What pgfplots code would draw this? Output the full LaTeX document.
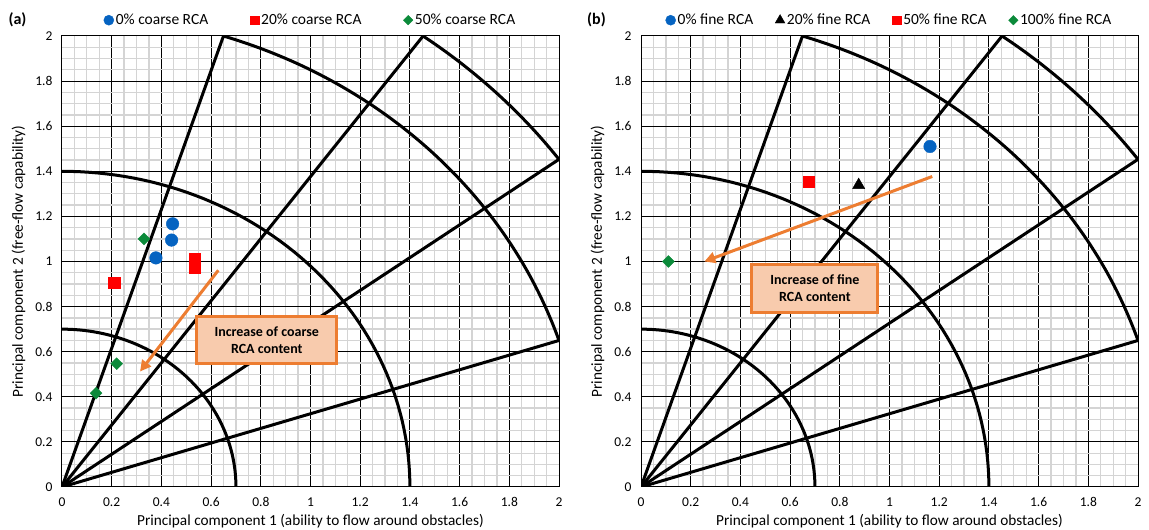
\documentclass[border=0pt]{standalone}
\usepackage{fontspec}
\setmainfont{Carlito}
\usepackage{pgfplots}
\pgfplotsset{compat=1.18}
\usetikzlibrary{arrows.meta}

\definecolor{mblue}{HTML}{0563C1}
\definecolor{mred}{HTML}{FF0000}
\definecolor{mgreen}{HTML}{0B8A3A}
\definecolor{morange}{HTML}{ED7D31}
\definecolor{mpeach}{HTML}{F8CBAD}
\definecolor{mgrid}{HTML}{D4D4D4}

\tikzset{
  note/.style={draw=morange, fill=mpeach, line width=3pt, align=center,
    font=\bfseries\fontsize{14}{17}\selectfont},
}

\pgfplotsset{
  pcaxis/.style={
    scale only axis, width=497pt, height=451pt,
    xmin=0, xmax=2, ymin=0, ymax=2,
    clip mode=individual,
    xtick={0,0.2,0.4,0.6,0.8,1,1.2,1.4,1.6,1.8,2},
    ytick={0,0.2,0.4,0.6,0.8,1,1.2,1.4,1.6,1.8,2},
    minor tick num=3,
    grid=both,
    major grid style={black, line width=1pt},
    minor grid style={mgrid, line width=1.3pt},
    axis line style={black, line width=1pt},
    major tick length=0pt, minor tick length=0pt,
    ticklabel style={font=\fontsize{13.5}{16}\selectfont},
    xticklabel style={yshift=-7pt},
    yticklabel style={xshift=-6pt},
    /pgf/number format/assume math mode=true,
    xlabel={Principal component 1 (ability to flow around obstacles)},
    ylabel={Principal component 2 (free-flow capability)},
    every axis x label/.style={at={(axis description cs:0.5,-0.0754)}, anchor=center,
      font=\fontsize{15.3}{18}\selectfont},
    every axis y label/.style={at={(axis description cs:-0.0875,0.5)}, anchor=center, rotate=90,
      font=\fontsize{15.3}{18}\selectfont},
    legend style={at={(axis description cs:0.5,1.035)}, anchor=center,
      draw=none, fill=none, inner sep=0pt,
      font=\fontsize{15.5}{18}\selectfont},
    legend columns=-1,
    legend image code/.code={\draw[#1, every mark/.append style={scale=0.8}] plot coordinates {(0pt,0pt)};},
  },
  guide/.style={black, line width=3pt, forget plot},
  trend/.style={morange, line width=3pt, forget plot,
    -{Triangle[length=11pt,width=11pt]}},
  pblue/.style={only marks, mark=*, mark size=6.3pt, color=mblue,
    mark options={draw=mblue, fill=mblue}},
  pred/.style={only marks, mark=square*, mark size=5.6pt, color=mred,
    mark options={draw=mred, fill=mred}},
  pgreen/.style={only marks, mark=square*, mark size=4.2pt, color=mgreen,
    mark options={draw=mgreen, fill=mgreen, rotate=45}},
  pblack/.style={only marks, mark=triangle*, mark size=7pt, color=black,
    mark options={draw=black, fill=black}},
}

% construction lines shared by both panels: rays at 18, 36, 54, 72 degrees
% and arcs of radius 0.7, 1.4, 2/sin(72), 2/cos(36)
\newcommand\guides{%
  \addplot[guide] coordinates {(0,0) (0.6498,2)};
  \addplot[guide] coordinates {(0,0) (1.4531,2)};
  \addplot[guide] coordinates {(0,0) (2,1.4531)};
  \addplot[guide] coordinates {(0,0) (2,0.6498)};
  \addplot[guide, domain=0:90, samples=61, variable=\t] ({0.7*cos(\t)},{0.7*sin(\t)});
  \addplot[guide, domain=0:90, samples=61, variable=\t] ({1.4*cos(\t)},{1.4*sin(\t)});
  \addplot[guide, domain=18:72, samples=61, variable=\t] ({2.1029*cos(\t)},{2.1029*sin(\t)});
  \addplot[guide, domain=36:54, samples=31, variable=\t] ({2.4721*cos(\t)},{2.4721*sin(\t)});
}

\begin{document}
\begin{tikzpicture}
\useasboundingbox (-62pt,-43pt) rectangle (1087pt,487pt);

% (a) coarse recycled aggregate
\begin{axis}[pcaxis, at={(0pt,0pt)}, anchor=south west,
  legend style={/tikz/every even column/.append style={column sep=40pt}}]
  \guides
  \addplot[pblue] coordinates {(0.445,1.167) (0.441,1.095) (0.378,1.016)};
  \addlegendentry{0\% coarse RCA}
  \addplot[pred] coordinates {(0.210,0.905) (0.535,1.010) (0.535,0.975)};
  \addlegendentry{20\% coarse RCA}
  \addplot[pgreen] coordinates {(0.330,1.100) (0.220,0.547) (0.137,0.416)};
  \addlegendentry{50\% coarse RCA}
  \addplot[trend] coordinates {(0.629,0.961) (0.314,0.512)};
  \node[note, minimum width=140pt, minimum height=47pt] at (axis cs:0.824,0.651)
    {Increase of coarse\\RCA content};
  \node[font=\bfseries\fontsize{16}{19}\selectfont] at (axis description cs:-0.0895,1.0355) {(a)};
\end{axis}

% (b) fine recycled aggregate
\begin{axis}[pcaxis, at={(579pt,0pt)}, anchor=south west,
  legend style={/tikz/every even column/.append style={column sep=20pt}}]
  \guides
  \addplot[pblue] coordinates {(1.163,1.510)};
  \addlegendentry{0\% fine RCA}
  \addplot[pblack] coordinates {(0.876,1.339)};
  \addlegendentry{20\% fine RCA}
  \addplot[pred] coordinates {(0.675,1.354)};
  \addlegendentry{50\% fine RCA}
  \addplot[pgreen] coordinates {(0.110,1.000)};
  \addlegendentry{100\% fine RCA}
  \addplot[trend] coordinates {(1.172,1.377) (0.255,1.000)};
  \node[note, minimum width=126pt, minimum height=48pt] at (axis cs:0.700,0.880)
    {Increase of fine\\RCA content};
  \node[font=\bfseries\fontsize{16}{19}\selectfont] at (axis description cs:-0.0895,1.0355) {(b)};
\end{axis}
\end{tikzpicture}
\end{document}
